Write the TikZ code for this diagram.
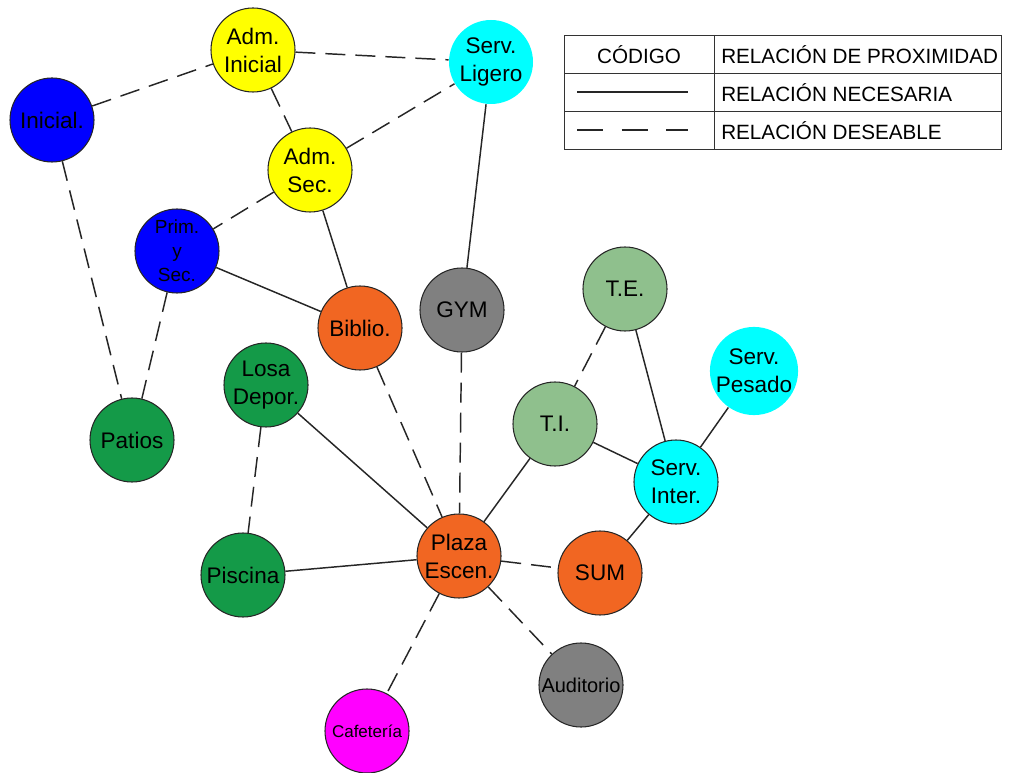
\documentclass[tikz,border=0pt]{standalone}
\usepackage{fontspec}
\setmainfont{Liberation Sans}
\definecolor{cblue}{RGB}{0,0,255}
\definecolor{cyel}{RGB}{255,255,0}
\definecolor{ccyan}{RGB}{0,255,255}
\definecolor{corange}{RGB}{241,102,34}
\definecolor{cdgreen}{RGB}{20,154,72}
\definecolor{clgreen}{RGB}{143,192,141}
\definecolor{cgray}{RGB}{128,128,128}
\definecolor{cmag}{RGB}{255,0,255}
\begin{document}
\begin{tikzpicture}[x=0.75pt,y=-0.75pt,
  area/.style={circle,draw=black!85,line width=0.8pt,minimum size=63pt,inner sep=0pt,
    align=center,font=\fontsize{16.9}{21}\selectfont},
  plain/.style={area,draw=none},
  small/.style={font=\fontsize{14.25}{18}\selectfont},
  necesaria/.style={draw=black!85,line width=1.1pt},
  deseable/.style={draw=black!85,line width=1.1pt,dash pattern=on 15pt off 7.5pt},
  legtext/.style={anchor=west,inner sep=0pt,font=\fontsize{15.5}{18}\selectfont},
  legline/.style={draw=black!80,line width=0.7pt}]
\useasboundingbox (0,0) rectangle (1010,773);

% areas
\node[area,fill=cyel]    (admini) at (253,50)  {Adm.\\Inicial};
\node[plain,fill=ccyan]  (ligero) at (491,62)  {Serv.\\Ligero};
\node[area,fill=cblue]   (ini)    at (52,120)  {Inicial.};
\node[area,fill=cyel]    (admsec) at (310,170) {Adm.\\Sec.};
\node[area,fill=cblue,small] (prim) at (177,251) {Prim.\\y\\Sec.};
\node[area,fill=cgray]   (gym)    at (462,310) {GYM};
\node[area,fill=clgreen] (te)     at (625,289) {T.E.};
\node[area,fill=corange] (bib)    at (360,328) {Biblio.};
\node[plain,fill=ccyan]  (pesado) at (754,371) {Serv.\\Pesado};
\node[area,fill=cdgreen] (losa)   at (266,385) {Losa\\Depor.};
\node[area,fill=cdgreen] (patios) at (132,440) {Patios};
\node[area,fill=clgreen] (ti)     at (555,424) {T.I.};
\node[area,fill=ccyan]   (inter)  at (676,482) {Serv.\\Inter.};
\node[area,fill=corange] (plaza)  at (459,556) {Plaza\\Escen.};
\node[area,fill=corange] (sum)    at (600,573) {SUM};
\node[area,fill=cdgreen] (pisc)   at (243,575) {Piscina};
\node[area,fill=cgray,font=\fontsize{15}{18}\selectfont] (aud) at (581,685) {Auditorio};
\node[area,fill=cmag,font=\fontsize{12.75}{15}\selectfont] (caf) at (367,731) {Cafetería};

% desirable relations
\draw[deseable] (ini) -- (admini);
\draw[deseable] (admini) -- (ligero);
\draw[deseable] (admini) -- (admsec);
\draw[deseable] (admsec) -- (ligero);
\draw[deseable] (admsec) -- (prim);
\draw[deseable] (ini) -- (patios);
\draw[deseable] (prim) -- (patios);
\draw[deseable] (bib) -- (plaza);
\draw[deseable] (gym) -- (plaza);
\draw[deseable] (losa) -- (pisc);
\draw[deseable] (te) -- (ti);
\draw[deseable] (plaza) -- (sum);
\draw[deseable] (plaza) -- (caf);
\draw[deseable] (plaza) -- (aud);

% necessary relations
\draw[necesaria] (ligero) -- (gym);
\draw[necesaria] (admsec) -- (bib);
\draw[necesaria] (prim) -- (bib);
\draw[necesaria] (losa) -- (plaza);
\draw[necesaria] (pisc) -- (plaza);
\draw[necesaria] (ti) -- (plaza);
\draw[necesaria] (ti) -- (inter);
\draw[necesaria] (te) -- (inter);
\draw[necesaria] (pesado) -- (inter);
\draw[necesaria] (inter) -- (sum);

% legend table
\draw[legline] (564,35) rectangle (1001,149);
\draw[legline] (564,73) -- (1001,73);
\draw[legline] (564,111) -- (1001,111);
\draw[legline] (714,35) -- (714,149);
\node[inner sep=0pt,font=\fontsize{15.5}{18}\selectfont] (cod) at (639,55) {CÓDIGO};
\node[legtext] (lprox) at (721,55)  {RELACIÓN DE PROXIMIDAD};
\node[legtext] (lnec)  at (721,93)  {RELACIÓN NECESARIA};
\node[legtext] (ldes)  at (721,131) {RELACIÓN DESEABLE};
\coordinate (na) at (577,92);
\coordinate (nb) at (688,92);
\coordinate (da) at (577,130);
\coordinate (db) at (688,130);
\draw[black!85,line width=0.8pt] (na) -- (nb);
\draw[black!85,line width=0.8pt,dash pattern=on 19.5pt off 14pt] (da) -- (db);
\end{tikzpicture}
\end{document}
